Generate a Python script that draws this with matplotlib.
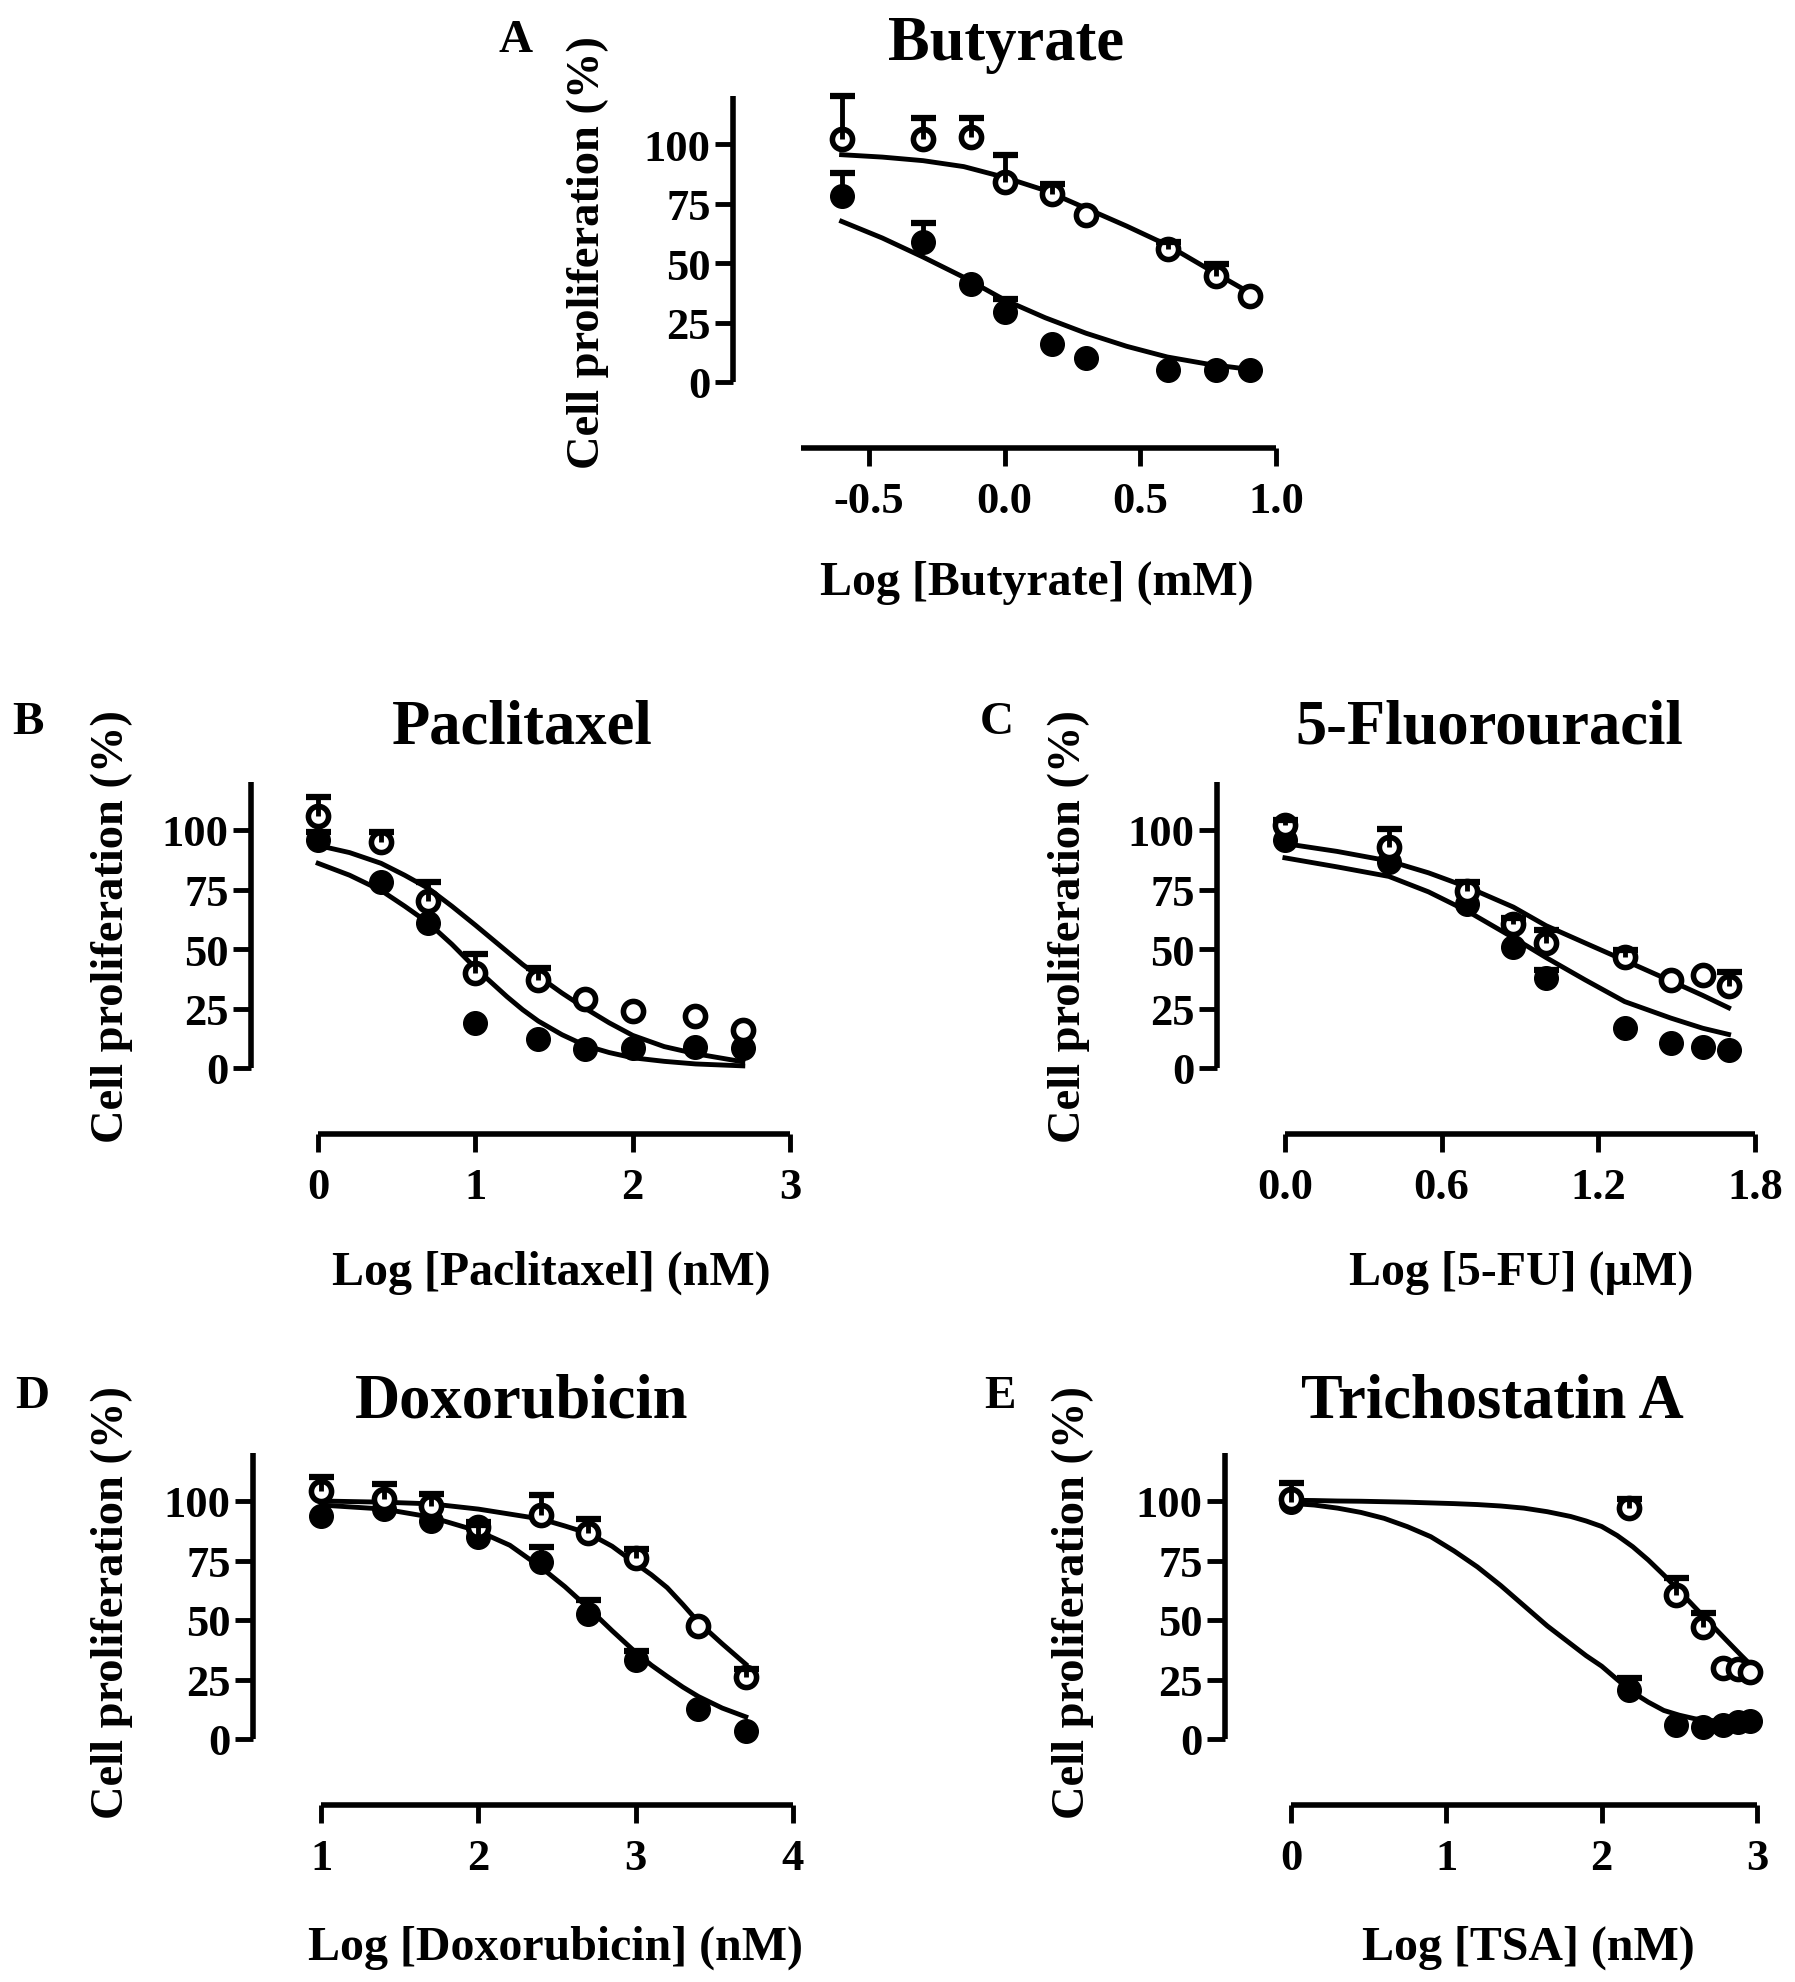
import numpy as np
import matplotlib.pyplot as plt

plt.rcParams['font.family'] = 'Liberation Serif'
plt.rcParams['font.weight'] = 'bold'
plt.rcParams['axes.unicode_minus'] = False

W, H = 1795, 1983

# ---------------------------------------------------------------
# data (open = white circles, filled = black)
# ---------------------------------------------------------------
# A: Butyrate
but_x = [-0.6, -0.3, -0.125, 0.0, 0.176, 0.301, 0.602, 0.778, 0.903]
but_open = [102, 102, 103, 84, 79, 70, 56, 44.5, 36]
but_open_sem = [18, 9, 8, 11.5, 4, 0, 3, 5, 0]
but_fill = [78, 59, 41, 29.5, 16, 10, 5, 5, 5]
but_fill_sem = [10, 8, 0, 5.5, 0, 0, 0, 0, 0]
but_cx = [-0.6, -0.45, -0.3, -0.15, 0.0, 0.15, 0.3, 0.45, 0.6, 0.75, 0.903]
but_cup = [95.5, 94.5, 93, 90.5, 86, 80.5, 73, 65.5, 57.5, 47.5, 37.5]
but_clow = [67.5, 60.5, 52.5, 44, 34.5, 27, 20.5, 15, 10.5, 7.5, 5.3]

# B: Paclitaxel
pac_x = [0, 0.398, 0.699, 1.0, 1.398, 1.699, 2.0, 2.398, 2.699]
pac_open = [106, 95, 70, 40, 37, 29, 24, 22, 16]
pac_open_sem = [8, 4, 8, 8, 5, 0, 0, 0, 0]
pac_fill = [96, 78, 61, 19, 12, 8, 8.5, 9, 8.5]
pac_fill_sem = [3, 0, 0, 0, 0, 0, 0, 0, 0]
pac_cx = [0, 0.2, 0.4, 0.55, 0.7, 0.85, 1.0, 1.1, 1.2, 1.3, 1.4, 1.55, 1.7, 1.85, 2.0, 2.2, 2.4, 2.7]
pac_cup = [93.5, 90.5, 86, 81, 75.5, 68, 60, 54.5, 49, 43.5, 38.6, 31.5, 25, 19, 13.7, 9, 6, 2.6]
pac_clow = [86, 81, 74.6, 68, 61, 52, 42, 36, 30, 24.5, 19.7, 14, 9.4, 6.5, 4.3, 2.8, 1.7, 0.9]

# C: 5-Fluorouracil
fu_x = [0, 0.398, 0.699, 0.875, 1.0, 1.301, 1.477, 1.602, 1.699]
fu_open = [102, 93, 74.5, 60.5, 52.5, 46.5, 37, 39, 34.5]
fu_open_sem = [2, 7.5, 3.5, 2.5, 5.5, 3, 0, 0, 6]
fu_fill = [96, 86.5, 69, 51, 38, 17, 10.5, 9, 7.5]
fu_fill_sem = [0, 0, 0, 0, 3, 0, 0, 0, 0]
fu_cx = [0, 0.2, 0.398, 0.55, 0.699, 0.875, 1.0, 1.15, 1.301, 1.477, 1.6, 1.699]
fu_cup = [94.3, 91, 87, 82, 76, 67.6, 59.8, 52.5, 45.2, 36.6, 30.5, 25.3]
fu_clow = [88.3, 84.5, 80.5, 74, 65.9, 54.7, 46.4, 37, 27.9, 21, 16.7, 14.1]

# D: Doxorubicin
dox_x = [1.0, 1.398, 1.699, 2.0, 2.398, 2.699, 3.0, 3.398, 3.699]
dox_open = [104, 101, 98, 89, 94, 86.5, 76, 47.5, 26]
dox_open_sem = [6, 6, 5, 2, 8.5, 6, 4, 0, 3.5]
dox_fill = [93.5, 96.5, 91.5, 85, 74.5, 52.5, 33, 12.5, 3.5]
dox_fill_sem = [0, 0, 0, 5, 6, 6, 4, 0, 0]
dox_cx = [1.0, 1.4, 1.7, 2.0, 2.2, 2.4, 2.55, 2.7, 2.85, 3.0, 3.1, 3.2, 3.3, 3.4, 3.55, 3.7]
dox_cup = [100, 99.5, 98.8, 96.6, 94.5, 92.4, 89.5, 86.4, 81, 73.7, 69, 63.6, 56.5, 49, 40, 31.4]
dox_clow = [98.3, 96.6, 93.2, 87.3, 81.4, 72, 64, 55, 45.5, 36.4, 31, 26.3, 21.8, 17.8, 13, 9.3]

# E: Trichostatin A
tsa_x = [0, 2.176, 2.477, 2.653, 2.778, 2.875, 2.954]
tsa_open = [101, 97, 60.5, 47, 30, 29.5, 28]
tsa_open_sem = [0, 4, 7, 6, 0, 0, 0]
tsa_fill = [99.5, 20.5, 6, 5, 6, 7, 7.5]
tsa_fill_sem = [8, 5, 0, 0, 0, 0, 0]
tsa_cx = [0, 0.15, 0.3, 0.45, 0.6, 0.75, 0.9, 1.05, 1.2, 1.35, 1.5, 1.65, 1.8, 1.9,
          2.0, 2.1, 2.2, 2.3, 2.4, 2.5, 2.6, 2.7, 2.8, 2.9, 2.954]
tsa_cup = [100.3, 100.2, 100, 99.9, 99.7, 99.5, 99.2, 98.9, 98.5, 97.9, 97, 95.5, 93.5, 91.6,
           89.3, 85.5, 80.8, 75.2, 68.9, 62.2, 55.3, 48.5, 41.7, 35, 31.5]
tsa_clow = [99, 98.3, 97, 95.2, 92.7, 89.2, 85, 79, 72.3, 64.5, 56, 47.5, 40, 35,
            30.6, 25, 19.6, 15.5, 12, 10, 8.5, 7.8, 7.3, 7.2, 7.3]

y_ticks = [0, 25, 50, 75, 100]

fig = plt.figure(figsize=(W / 100, H / 100), dpi=100)


def rect(left_px, right_px, zero_px):
    # axes box from pixel positions: y spine at left, x axis 27.7 units below zero
    ppu = 2.38
    top = zero_px - 120 * ppu
    bottom = zero_px + 27.7 * ppu
    return [left_px / W, 1 - bottom / H, (right_px - left_px) / W, (bottom - top) / H]


def panel(box, xlim, xticks, xticklabels, x, yo, so, yf, sf, cx, cup, clow):
    ax = fig.add_axes(box)
    x = np.array(x)
    ax.plot(cx, cup, color='black', lw=3.5, zorder=2, clip_on=False, solid_joinstyle='round')
    ax.plot(cx, clow, color='black', lw=3.5, zorder=2, clip_on=False, solid_joinstyle='round')
    ax.plot(x, yf, 'o', color='black', ms=17, zorder=3, clip_on=False)
    ax.plot(x, yo, 'o', mfc='white', mec='black', ms=14.5, mew=4, zorder=4, clip_on=False)
    for y, s in ((yf, sf), (yo, so)):
        y, s = np.array(y, float), np.array(s, float)
        m = s > 0
        ax.vlines(x[m], y[m], y[m] + s[m], color='black', lw=3.5, zorder=5)
        ax.plot(x[m], y[m] + s[m], linestyle='none', marker='_', ms=18, mew=4.5,
                color='black', zorder=5, clip_on=False)
    ax.set_xlim(*xlim)
    ax.set_ylim(-27.7, 120)
    ax.set_xticks(xticks)
    ax.set_xticklabels(xticklabels)
    ax.set_yticks(y_ticks)
    ax.spines['top'].set_visible(False)
    ax.spines['right'].set_visible(False)
    for sp in ('left', 'bottom'):
        ax.spines[sp].set_linewidth(4)
        ax.spines[sp].set_capstyle('butt')
    ax.spines['left'].set_bounds(0, 120)
    ax.spines['bottom'].set_bounds(xticks[0], xticks[-1])
    ax.tick_params(axis='both', direction='out', length=13, width=3.5, labelsize=32)
    ax.tick_params(axis='x', pad=11)
    ax.tick_params(axis='y', pad=3)
    ax.patch.set_visible(False)
    return ax


panel(rect(733, 1276, 383), (-1.0, 1.0), [-0.75, -0.5, 0.0, 0.5, 1.0],
      ['', '-0.5', '0.0', '0.5', '1.0'],
      but_x, but_open, but_open_sem, but_fill, but_fill_sem, but_cx, but_cup, but_clow)
panel(rect(251, 790, 1069), (-0.427, 3.0), [0, 1, 2, 3], ['0', '1', '2', '3'],
      pac_x, pac_open, pac_open_sem, pac_fill, pac_fill_sem, pac_cx, pac_cup, pac_clow)
panel(rect(1217, 1755, 1069), (-0.26, 1.8), [0.0, 0.6, 1.2, 1.8],
      ['0.0', '0.6', '1.2', '1.8'],
      fu_x, fu_open, fu_open_sem, fu_fill, fu_fill_sem, fu_cx, fu_cup, fu_clow)
panel(rect(253, 793, 1740), (0.567, 4.0), [1, 2, 3, 4], ['1', '2', '3', '4'],
      dox_x, dox_open, dox_open_sem, dox_fill, dox_fill_sem, dox_cx, dox_cup, dox_clow)
panel(rect(1225, 1757, 1740), (-0.425, 3.0), [0, 1, 2, 3], ['0', '1', '2', '3'],
      tsa_x, tsa_open, tsa_open_sem, tsa_fill, tsa_fill_sem, tsa_cx, tsa_cup, tsa_clow)

# A axis has no tick at its left end
fig.axes[0].xaxis.get_major_ticks()[0].tick1line.set_visible(False)


def ftext(px, py, s, size, rot=0):
    fig.text(px / W, 1 - py / H, s, fontsize=size, rotation=rot,
             ha='center', va='center', fontweight='bold')


titles = [(1006, 45, 'Butyrate'), (522, 728, 'Paclitaxel'), (1489, 728, '5-Fluorouracil'),
          (522, 1403, 'Doxorubicin'), (1492, 1403, 'Trichostatin A')]
letters = [(516, 41, 'A'), (28, 723, 'B'), (997, 723, 'C'), (32, 1397, 'D'), (1000, 1397, 'E')]
ylabels = [(588, 253), (112, 927), (1069, 927), (112, 1603), (1073, 1603)]
xlabels = [(1037, 583, 'Log [Butyrate] (mM)'), (551, 1273, 'Log [Paclitaxel] (nM)'),
           (1521, 1273, 'Log [5-FU] (\u00b5M)'), (555, 1948, 'Log [Doxorubicin] (nM)'),
           (1528, 1948, 'Log [TSA] (nM)')]

for px, py, s in titles:
    ftext(px, py, s, 45)
for px, py, s in letters:
    ftext(px, py, s, 34)
for px, py in ylabels:
    ftext(px, py, 'Cell proliferation (%)', 33.5, rot=90)
for px, py, s in xlabels:
    ftext(px, py, s, 34.5)

fig.savefig('out.png', dpi=100, facecolor='white')
